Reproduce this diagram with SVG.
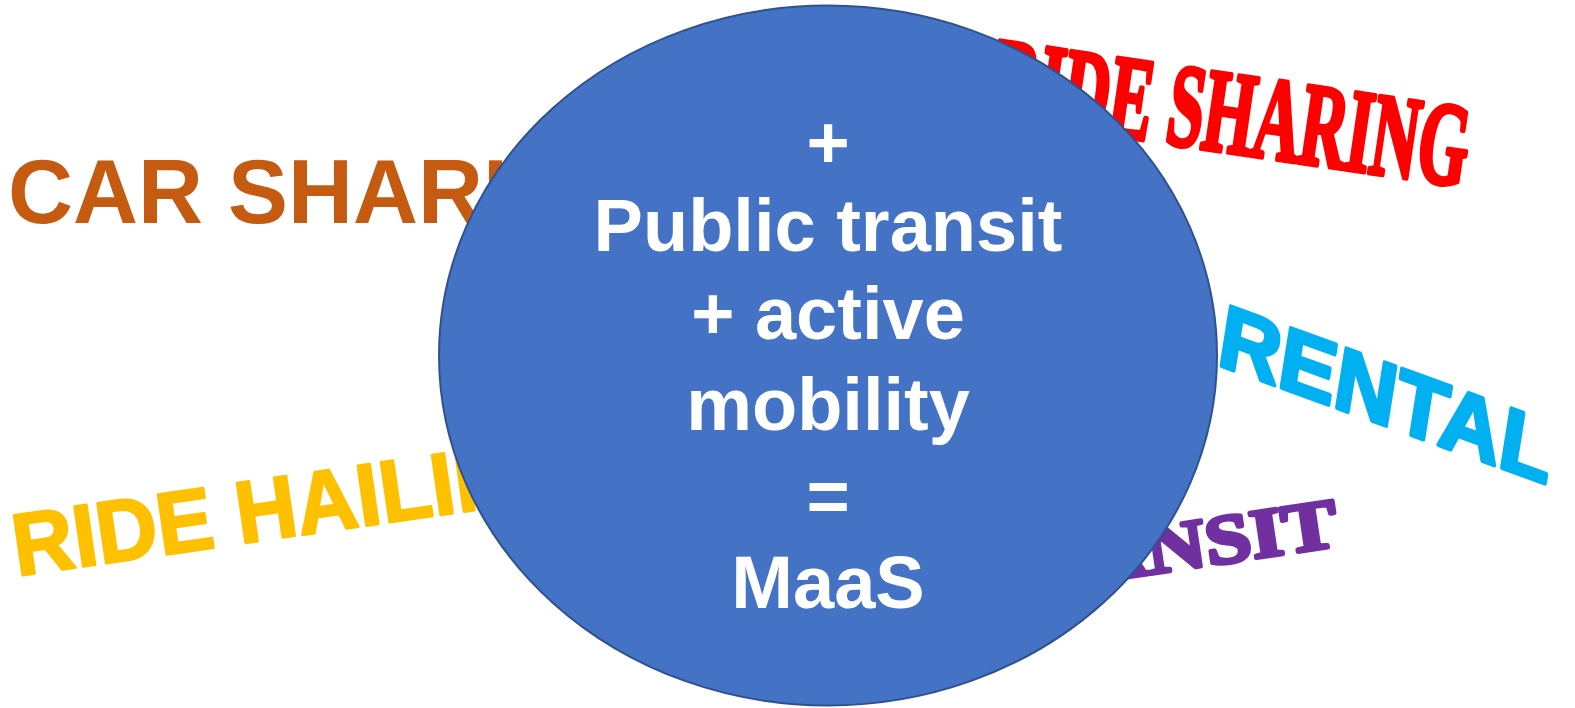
<svg xmlns="http://www.w3.org/2000/svg" width="1575" height="708" viewBox="0 0 1575 708">
<style>
.bg{font-family:"Liberation Sans",Arial,sans-serif;font-weight:bold}
.serif{font-family:"Liberation Serif","Times New Roman",serif;font-weight:bold}
.thick{stroke-linejoin:round}
.in{font-family:"Liberation Sans",Arial,sans-serif;font-weight:bold;font-size:74px;fill:#FFFFFF;text-anchor:middle}
</style>
<rect width="1575" height="708" fill="#FFFFFF"/>
<g id="car-sharing"><text class="bg" x="8" y="223" font-size="90" fill="#C55A11">CAR SHARING</text></g>
<g id="ride-sharing" transform="translate(987,117) rotate(8.3) scale(0.55,1)"><text class="serif thick" x="0" y="0" font-size="118" fill="#FF0000" stroke="#FF0000" stroke-width="5">RIDE SHARING</text></g>
<g id="rental" transform="translate(1216,364) rotate(20) skewX(11) scale(1.03,1)"><text class="bg thick" x="0" y="0" font-size="86" fill="#00B0F0" stroke="#00B0F0" stroke-width="4">RENTAL</text></g>
<g id="ride-hailing" transform="translate(17,576) rotate(-8.2) scale(0.96,1)"><text class="bg thick" x="0" y="0" font-size="88" fill="#FFC000" stroke="#FFC000" stroke-width="2.5">RIDE HAILING</text></g>
<g id="transit" transform="translate(977,600) rotate(-8.5) scale(1.18,1)"><text class="serif thick" x="0" y="0" font-size="70" fill="#7030A0" stroke="#7030A0" stroke-width="4">TRANSIT</text></g>
<g id="maas">
<ellipse cx="828" cy="355.5" rx="389" ry="350" fill="#4472C4" stroke="#2F528F" stroke-width="2"/>
<text class="in" x="828" y="168">+</text>
<text class="in" x="828" y="251">Public transit</text>
<text class="in" x="828" y="339">+ active</text>
<text class="in" x="828" y="430">mobility</text>
<text class="in" x="828" y="522">=</text>
<text class="in" x="828" y="608">MaaS</text>
</g>
</svg>
